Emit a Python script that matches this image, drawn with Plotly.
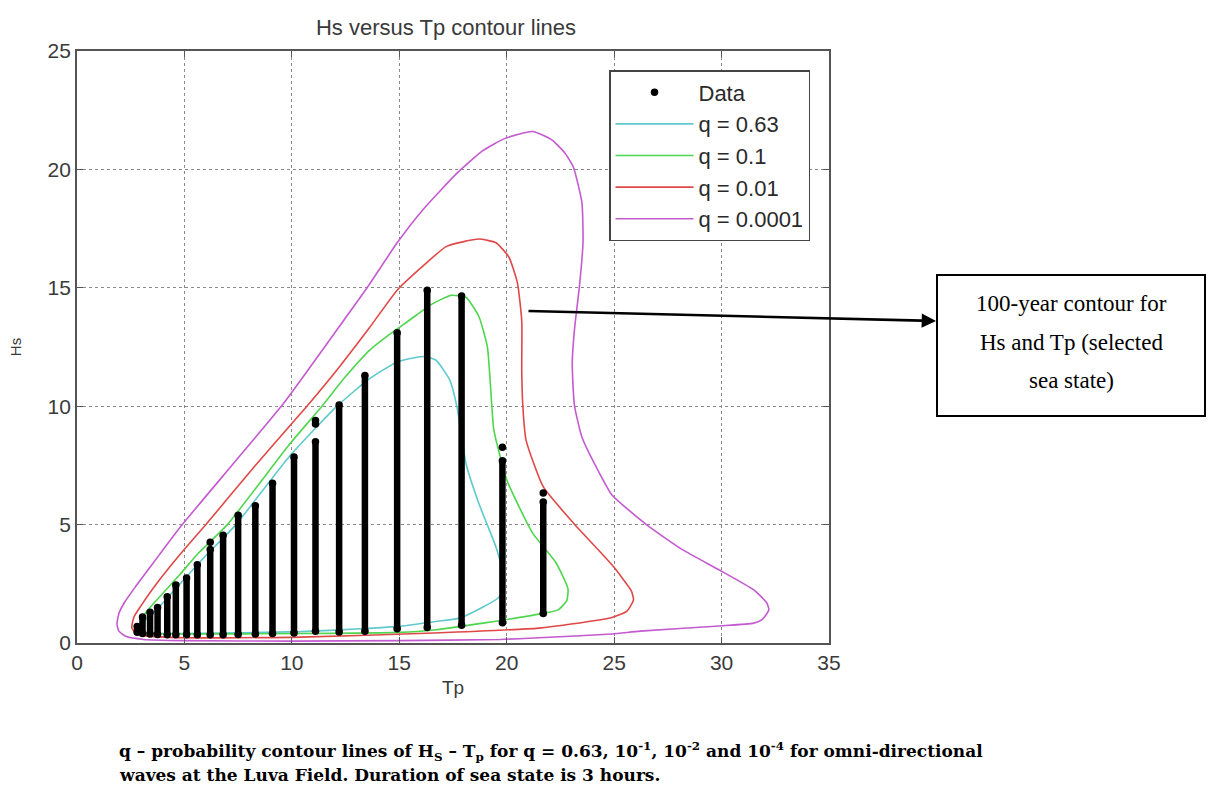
import plotly.graph_objects as go

# ---- Hindcast sea states: each Tp bin holds a column of Hs values ----
tp_bins = [2.8, 3.05, 3.4, 3.75, 4.2, 4.6, 5.1, 5.6, 6.2, 6.8, 7.5, 8.3, 9.1,
           10.1, 11.1, 12.2, 13.4, 14.9, 16.3, 17.9, 19.8, 21.7]
hs_low = [0.45, 0.4, 0.38, 0.36, 0.35, 0.35, 0.35, 0.35, 0.35, 0.35, 0.36, 0.38,
          0.4, 0.42, 0.5, 0.46, 0.5, 0.6, 0.65, 0.75, 0.85, 1.25]
hs_high = [0.7, 1.1, 1.3, 1.5, 1.95, 2.45, 2.75, 3.3, 3.95, 4.55, 5.4, 5.8, 6.75,
           7.85, 8.5, 10.05, 11.3, 13.1, 14.9, 14.65, 7.7, 5.95]
# isolated sea states above the bulk of a column
tp_single = [6.2, 11.1, 11.1, 19.8, 21.7]
hs_single = [4.25, 9.25, 9.4, 8.27, 6.33]

# ---- Hs-Tp contour lines (closed curves) ----
q063_tp = [2.95, 3.1, 3.7, 4.8, 5.9, 7.4, 9.9, 12.1, 13.6, 14.9, 16.1, 16.7, 17.35,
           17.7, 18.1, 18.7, 19.5, 19.9, 19.85, 19.6, 18.9, 17.8, 16.6, 15.0, 13.2,
           10.4, 5.0, 3.3, 3.0, 2.95]
q063_hs = [0.55, 0.9, 1.4, 2.5, 3.6, 5.0, 7.9, 10.0, 11.15, 11.87, 12.1, 11.95, 11.1,
           9.9, 7.6, 5.9, 4.05, 2.7, 2.2, 1.9, 1.52, 1.05, 0.9, 0.7, 0.6,
           0.48, 0.4, 0.42, 0.48, 0.55]

q01_tp = [2.9, 3.0, 3.3, 4.2, 4.8, 5.6, 7.0, 9.9, 11.4, 12.5, 13.6, 14.5, 15.5,
          16.5, 17.4, 18.1, 18.7, 19.1, 19.3, 19.4, 20.0, 21.2, 22.3, 22.85, 22.8,
          22.4, 21.7, 18.9, 16.6, 15.0, 10.4, 5.0, 3.3, 3.0, 2.9]
q01_hs = [0.63, 1.0, 1.4, 2.3, 2.9, 3.75, 5.0, 8.4, 10.0, 11.25, 12.35, 13.0, 13.65,
          14.3, 14.68, 14.6, 13.8, 12.5, 10.1, 9.0, 6.9, 4.65, 3.38, 2.3, 1.8,
          1.4, 1.25, 0.84, 0.55, 0.45, 0.4, 0.38, 0.42, 0.5, 0.63]

q001_tp = [2.55, 2.65, 3.0, 3.7, 4.9, 6.0, 8.3, 10.7, 12.2, 13.6, 14.9, 16.2, 17.2,
           18.7, 19.5, 20.1, 20.5, 20.7, 20.7, 20.75, 20.9, 21.7, 23.1, 24.9, 25.8,
           25.9, 25.6, 24.9, 23.0, 21.5, 16.6, 10.4, 5.0, 3.2, 2.7, 2.55]
q001_hs = [0.65, 1.1, 1.6, 2.5, 3.85, 5.0, 7.5, 10.0, 11.65, 13.3, 14.9, 16.0, 16.75,
           17.06, 16.9, 16.3, 15.2, 13.6, 11.5, 10.0, 8.57, 6.6, 5.07, 3.3, 2.2,
           1.82, 1.35, 1.08, 0.8, 0.63, 0.42, 0.25, 0.22, 0.3, 0.45, 0.65]

q00001_tp = [1.86, 1.95, 2.2, 2.7, 3.4, 4.1, 4.9, 7.3, 9.6, 12.0, 13.5, 14.9, 16.1,
             17.7, 18.9, 19.9, 21.2, 22.1, 22.7, 23.1, 23.5, 23.55, 23.4, 23.15, 23.05,
             23.15, 23.5, 24.3, 24.9, 26.5, 28.2, 29.9, 31.5, 32.1, 32.2, 31.9, 31.5,
             29.9, 26.2, 24.9, 21.5, 19.7, 15.0, 10.0, 5.0, 3.1, 2.3, 1.95, 1.86]
q00001_hs = [0.8, 1.25, 1.7, 2.35, 3.2, 4.05, 5.0, 7.6, 10.1, 13.1, 15.0, 16.9, 18.3,
             19.85, 20.8, 21.3, 21.6, 21.25, 20.7, 20.1, 18.6, 16.9, 15.2, 13.2, 11.8,
             10.05, 8.7, 7.2, 6.25, 5.0, 3.93, 3.08, 2.24, 1.7, 1.4, 1.0, 0.84,
             0.72, 0.5, 0.38, 0.22, 0.15, 0.1, 0.08, 0.1, 0.15, 0.27, 0.5, 0.8]

contours = [
    ("q = 0.63", q063_tp, q063_hs, "#5fc9cc"),
    ("q = 0.1", q01_tp, q01_hs, "#4fd64f"),
    ("q = 0.01", q001_tp, q001_hs, "#e04848"),
    ("q = 0.0001", q00001_tp, q00001_hs, "#c45ad0"),
]

fig = go.Figure()

for rank, (name, xs, ys, col) in enumerate(contours, start=2):
    fig.add_trace(go.Scatter(
        x=xs, y=ys, mode="lines", name=name,
        line=dict(color=col, width=1.6, shape="spline", smoothing=0.5),
        legendgroup=name, legendrank=rank,
    ))

# column bodies
col_x, col_y = [], []
for t, lo, hi in zip(tp_bins, hs_low, hs_high):
    col_x += [t, t, None]
    col_y += [lo, hi, None]
fig.add_trace(go.Scatter(
    x=col_x, y=col_y, mode="lines", line=dict(color="black", width=6.5),
    showlegend=False, legendgroup="Data", hoverinfo="skip",
))
# column ends and isolated sea states
fig.add_trace(go.Scatter(
    x=tp_bins + tp_bins + tp_single,
    y=hs_low + hs_high + hs_single,
    mode="markers", name="Data",
    marker=dict(color="black", size=7.5),
    legendgroup="Data", legendrank=1,
))

# plot area in pixels: x 77..829, y 51..643
PX0, PX1, PY0, PY1 = 77, 829, 51, 643
def px(x):
    return (x - PX0) / (PX1 - PX0)
def py(y):
    return (PY1 - y) / (PY1 - PY0)

FONT = "Liberation Sans, Arial"
SERIF = "Liberation Serif, Times New Roman"
axis_common = dict(
    showline=True, linecolor="#555555", linewidth=1.8, mirror="ticks",
    ticks="inside", ticklen=6, tickcolor="#555555", tickwidth=1.2,
    showgrid=True, gridcolor="#8a8a8a", griddash="dot", gridwidth=1,
    zeroline=False, dtick=5,
    tickfont=dict(family=FONT, size=21, color="#3a3a3a"),
)

fig.update_layout(
    width=1210, height=787,
    paper_bgcolor="white", plot_bgcolor="white",
    margin=dict(l=PX0, r=1210 - PX1, t=PY0, b=787 - PY1),
    title=dict(text="Hs versus Tp contour lines", x=446 / 1210, xanchor="center",
               y=1 - 27 / 787, yanchor="middle",
               font=dict(family=FONT, size=22, color="#3a3a3a")),
    xaxis=dict(range=[0, 35], title=dict(text="Tp", standoff=8,
               font=dict(family=FONT, size=19, color="#3a3a3a")),
               **axis_common),
    yaxis=dict(range=[0, 25], title=dict(text="Hs", standoff=22,
               font=dict(family=FONT, size=15, color="#3a3a3a")),
               **axis_common),
    legend=dict(x=px(609), y=py(70), xanchor="left", yanchor="top",
                bgcolor="white", bordercolor="#444444", borderwidth=1.5,
                font=dict(family=FONT, size=22, color="#2a2a2a"),
                itemwidth=78, tracegroupgap=6, traceorder="normal"),
    showlegend=True,
)

# call-out box and arrow
box_x0, box_x1, box_y0, box_y1 = 937, 1205, 275, 416
fig.add_shape(type="rect", xref="paper", yref="paper",
              x0=px(box_x0), x1=px(box_x1), y0=py(box_y1), y1=py(box_y0),
              line=dict(color="black", width=2), fillcolor="white")
box_lines = ["100-year contour for", "Hs and Tp (selected", "sea state)"]
for txt, yy in zip(box_lines, [303, 342, 380]):
    fig.add_annotation(xref="paper", yref="paper", x=px((box_x0 + box_x1) / 2), y=py(yy),
                       text=txt, showarrow=False, xanchor="center", yanchor="middle",
                       font=dict(family=SERIF, size=23, color="black"))
fig.add_annotation(xref="paper", yref="paper", x=px(936), y=py(321),
                   ax=527 - 936, ay=311 - 321, axref="pixel", ayref="pixel",
                   text="", showarrow=True, arrowhead=2, arrowsize=1.1,
                   arrowwidth=2.6, arrowcolor="black")

# caption below the chart
caption = [
    "q \u2013 probability contour lines of H<sub>S</sub> \u2013 T<sub>p</sub> for q = 0.63, "
    "10<sup>-1</sup>, 10<sup>-2</sup> and 10<sup>-4</sup> for omni-directional",
    "waves at the Luva Field. Duration of sea state is 3 hours.",
]
for txt, yy in zip(caption, [751, 775]):
    fig.add_annotation(xref="paper", yref="paper", x=px(117), y=py(yy),
                       text="<b>" + txt + "</b>", showarrow=False,
                       xanchor="left", yanchor="middle", align="left",
                       font=dict(family="DejaVu Serif, Liberation Serif", size=17,
                                 color="black"))

fig.write_html("out.html")
